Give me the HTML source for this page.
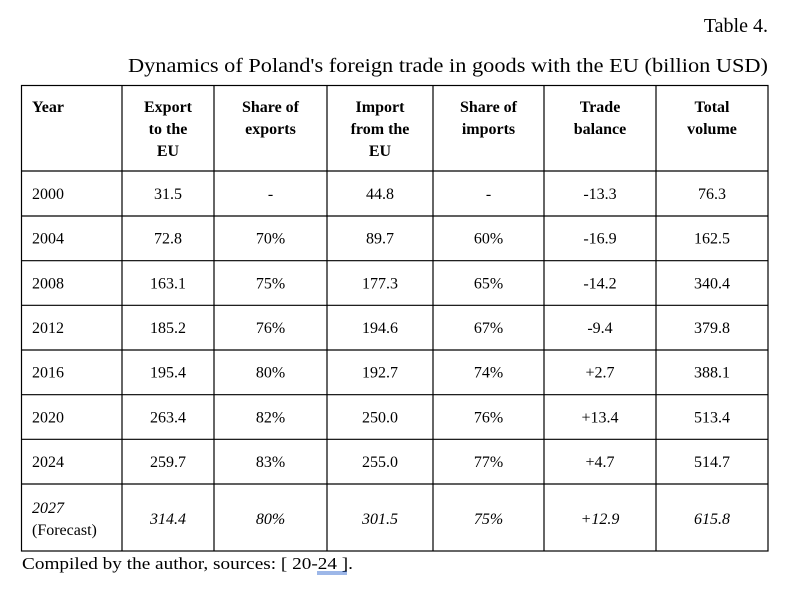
<!DOCTYPE html>
<html><head><meta charset="utf-8"><style>
html,body{margin:0;padding:0;background:#fff;}
svg, svg text{font-family:"Liberation Serif","Times New Roman","DejaVu Serif",serif;}
</style></head><body>
<svg width="790" height="592" viewBox="0 0 790 592" xmlns="http://www.w3.org/2000/svg" font-family="Liberation Serif, Times New Roman, serif">
<text x="768" y="32" font-size="20" text-anchor="end">Table 4.</text>
<text x="768" y="72" font-size="20" text-anchor="end" textLength="640" lengthAdjust="spacingAndGlyphs">Dynamics of Poland's foreign trade in goods with the EU (billion USD)</text>
<g stroke="#000" stroke-width="1.2" fill="none">
<rect x="21.5" y="85.5" width="746.5" height="465.5"/>
<line x1="122" y1="85.5" x2="122" y2="551"/>
<line x1="214" y1="85.5" x2="214" y2="551"/>
<line x1="327" y1="85.5" x2="327" y2="551"/>
<line x1="433" y1="85.5" x2="433" y2="551"/>
<line x1="544" y1="85.5" x2="544" y2="551"/>
<line x1="656" y1="85.5" x2="656" y2="551"/>
<line x1="21.5" y1="171" x2="768" y2="171"/>
<line x1="21.5" y1="216" x2="768" y2="216"/>
<line x1="21.5" y1="260.7" x2="768" y2="260.7"/>
<line x1="21.5" y1="305.3" x2="768" y2="305.3"/>
<line x1="21.5" y1="350" x2="768" y2="350"/>
<line x1="21.5" y1="394.7" x2="768" y2="394.7"/>
<line x1="21.5" y1="439.3" x2="768" y2="439.3"/>
<line x1="21.5" y1="484" x2="768" y2="484"/>
</g>
<g font-size="16" font-weight="bold" text-anchor="middle">
<text x="32" y="112" text-anchor="start">Year</text>
<text x="168" y="112">Export</text><text x="168" y="134">to the</text><text x="168" y="156">EU</text>
<text x="270.5" y="112">Share of</text><text x="270.5" y="134">exports</text>
<text x="380" y="112">Import</text><text x="380" y="134">from the</text><text x="380" y="156">EU</text>
<text x="488.5" y="112">Share of</text><text x="488.5" y="134">imports</text>
<text x="600" y="112">Trade</text><text x="600" y="134">balance</text>
<text x="712" y="112">Total</text><text x="712" y="134">volume</text>
</g>
<g font-size="16" text-anchor="middle">
<g transform="translate(0,199)">
<text x="32" text-anchor="start">2000</text><text x="168">31.5</text><text x="270.5">-</text><text x="380">44.8</text><text x="488.5">-</text><text x="600">-13.3</text><text x="712">76.3</text></g>
<g transform="translate(0,243.7)">
<text x="32" text-anchor="start">2004</text><text x="168">72.8</text><text x="270.5">70%</text><text x="380">89.7</text><text x="488.5">60%</text><text x="600">-16.9</text><text x="712">162.5</text></g>
<g transform="translate(0,288.3)">
<text x="32" text-anchor="start">2008</text><text x="168">163.1</text><text x="270.5">75%</text><text x="380">177.3</text><text x="488.5">65%</text><text x="600">-14.2</text><text x="712">340.4</text></g>
<g transform="translate(0,333)">
<text x="32" text-anchor="start">2012</text><text x="168">185.2</text><text x="270.5">76%</text><text x="380">194.6</text><text x="488.5">67%</text><text x="600">-9.4</text><text x="712">379.8</text></g>
<g transform="translate(0,377.7)">
<text x="32" text-anchor="start">2016</text><text x="168">195.4</text><text x="270.5">80%</text><text x="380">192.7</text><text x="488.5">74%</text><text x="600">+2.7</text><text x="712">388.1</text></g>
<g transform="translate(0,422.3)">
<text x="32" text-anchor="start">2020</text><text x="168">263.4</text><text x="270.5">82%</text><text x="380">250.0</text><text x="488.5">76%</text><text x="600">+13.4</text><text x="712">513.4</text></g>
<g transform="translate(0,467)">
<text x="32" text-anchor="start">2024</text><text x="168">259.7</text><text x="270.5">83%</text><text x="380">255.0</text><text x="488.5">77%</text><text x="600">+4.7</text><text x="712">514.7</text></g>
<g transform="translate(0,524)" font-style="italic">
<text x="168">314.4</text><text x="270.5">80%</text><text x="380">301.5</text><text x="488.5">75%</text><text x="600">+12.9</text><text x="712">615.8</text></g>
</g>
<text x="32" y="513" font-size="16" font-style="italic">2027</text>
<text x="32" y="535" font-size="16">(Forecast)</text>
<text x="22" y="569" font-size="17" textLength="331" lengthAdjust="spacingAndGlyphs">Compiled by the author, sources: [ 20-24 ].</text>
<line x1="317" y1="572" x2="347" y2="572" stroke="#3b6fd0" stroke-width="1"/>
<line x1="317" y1="574" x2="347" y2="574" stroke="#3b6fd0" stroke-width="1"/>
</svg>
</body></html>
